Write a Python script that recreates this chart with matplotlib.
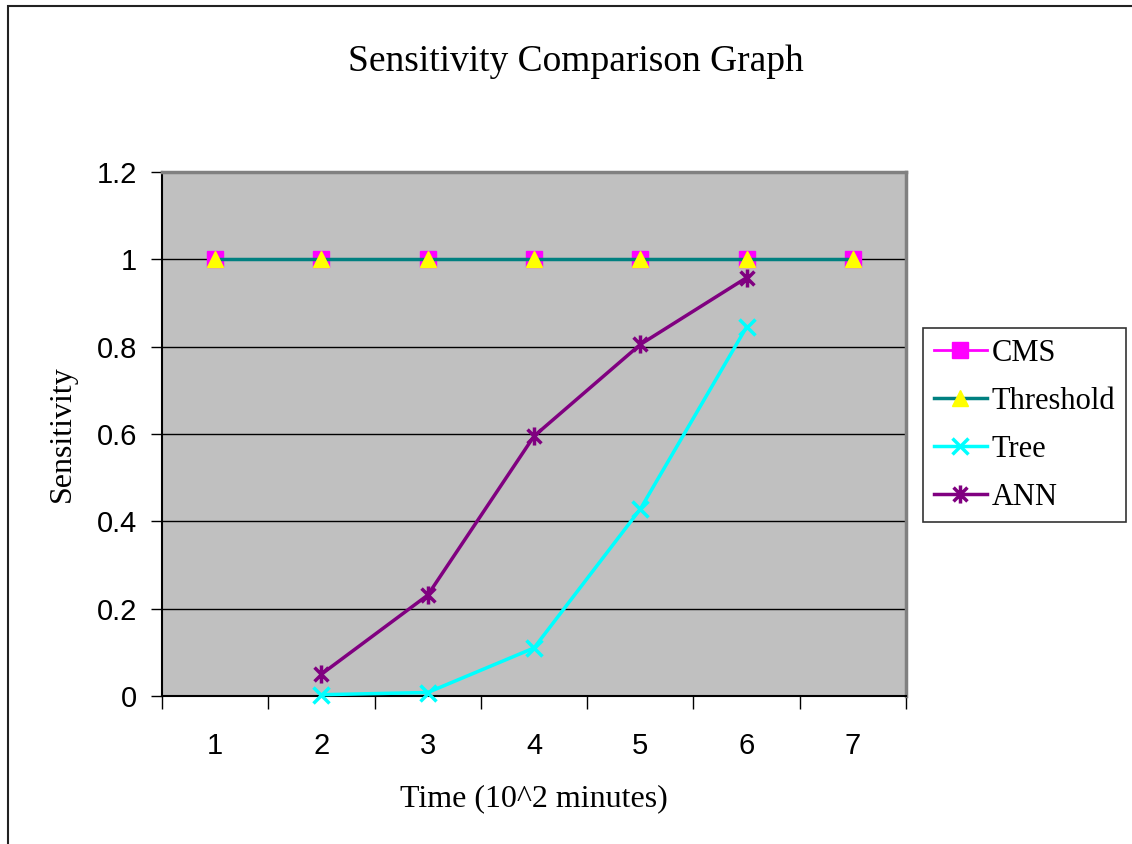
import matplotlib
matplotlib.use("Agg")
import matplotlib.pyplot as plt
from matplotlib.path import Path
from matplotlib.patches import Rectangle
import numpy as np

# ---------- data ----------
CATEGORIES = ["1", "2", "3", "4", "5", "6", "7"]
CMS = [1, 1, 1, 1, 1, 1, 1]
THRESHOLD = [1, 1, 1, 1, 1, 1, 1]
TREE = [None, 0.003, 0.008, 0.11, 0.428, 0.845, None]
ANN = [None, 0.05, 0.231, 0.595, 0.805, 0.958, None]
Y_TICKS = [0, 0.2, 0.4, 0.6, 0.8, 1, 1.2]
Y_TICK_LABELS = ["0", "0.2", "0.4", "0.6", "0.8", "1", "1.2"]

W, H = 1132, 844
fig = plt.figure(figsize=(W / 100, H / 100), dpi=100)

# outer chart border (only left/top visible in reference)
fig.patches.append(Rectangle((8 / W, -0.01), 1.1, (H - 6) / H + 0.01, transform=fig.transFigure,
                             fill=False, edgecolor="#222222", lw=1.5, zorder=0))

ax = fig.add_axes([162 / W, (H - 696) / H, 744 / W, 524 / H])
ax.set_facecolor("#c0c0c0")

x = np.arange(len(CATEGORIES)) + 0.5

def series(vals):
    xs = [xi for xi, v in zip(x, vals) if v is not None]
    ys = [v for v in vals if v is not None]
    return xs, ys

# Excel-style star: x plus vertical bar
star = Path([(-1, -1), (1, 1), (-1, 1), (1, -1), (0, -1.3), (0, 1.3)],
            [Path.MOVETO, Path.LINETO, Path.MOVETO, Path.LINETO, Path.MOVETO, Path.LINETO])

ax.plot(*series(CMS), color="#ff00ff", lw=2, marker="s", ms=11, mfc="#ff00ff", mec="#ff00ff",
        label="CMS", zorder=3, clip_on=False)
ax.plot(*series(THRESHOLD), color="#008080", lw=2.5, marker="^", ms=11, mfc="#ffff00", mec="#ffff00",
        label="Threshold", zorder=4, clip_on=False)
ax.plot(*series(TREE), color="#00ffff", lw=2.5, marker="x", ms=12, mew=2.5,
        label="Tree", zorder=3, clip_on=False)
ax.plot(*series(ANN), color="#800080", lw=2.5, marker=star, ms=13, mew=2.5,
        label="ANN", zorder=3, clip_on=False)

ax.set_xlim(0, len(CATEGORIES))
ax.set_ylim(0, 1.2)
ax.set_yticks(Y_TICKS)
ax.set_yticklabels(Y_TICK_LABELS, fontsize=21, family="Liberation Sans")
ax.set_xticks(np.arange(len(CATEGORIES) + 1))
ax.set_xticklabels([])
ax.set_xticks(x, minor=True)
ax.set_xticklabels(CATEGORIES, minor=True, fontsize=21, family="Liberation Sans")
ax.tick_params(axis="x", which="major", direction="out", length=9, width=1, color="black")
ax.tick_params(axis="x", which="minor", length=0, pad=26)
ax.tick_params(axis="y", direction="out", length=8, width=1, color="black", pad=10)

ax.grid(axis="y", color="black", lw=1)
ax.set_axisbelow(True)
for side in ["top", "right"]:
    ax.spines[side].set_color("#808080")
    ax.spines[side].set_linewidth(2.5)
for side in ["left", "bottom"]:
    ax.spines[side].set_color("black")
    ax.spines[side].set_linewidth(1.5)

ax.set_xlabel("Time (10^2 minutes)", fontsize=23, family="Liberation Serif", labelpad=17)
ax.set_ylabel("Sensitivity", fontsize=23, family="Liberation Serif", labelpad=14)
fig.text(576 / W, 1 - 62 / H, "Sensitivity Comparison Graph", ha="center", va="center",
         fontsize=27, family="Liberation Serif")

leg = ax.legend(loc="upper left", bbox_to_anchor=(923 / W, 1 - 328 / H), bbox_transform=fig.transFigure,
                prop={"family": "Liberation Serif", "size": 22}, frameon=True, fancybox=False,
                edgecolor="black", borderpad=0.35, handlelength=1.75, handletextpad=0.15,
                labelspacing=0.62, borderaxespad=0)
leg.get_frame().set_linewidth(1.2)

fig.savefig("out.png", dpi=100)
